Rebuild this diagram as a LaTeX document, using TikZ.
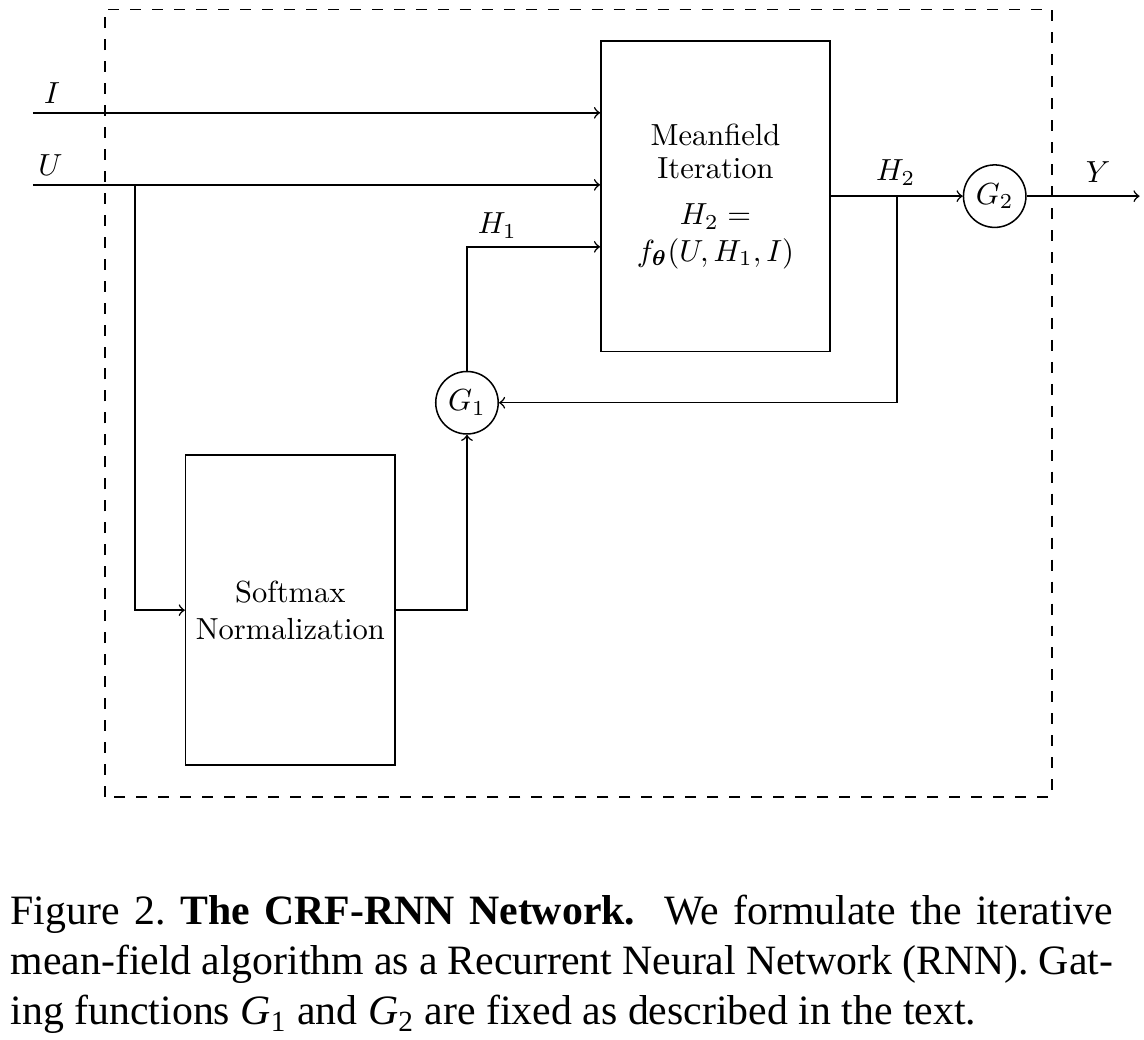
\documentclass[tikz,border=0pt]{standalone}
\usepackage{fontspec}
\usepackage{amsmath}
\newfontfamily\captionfont{Liberation Serif}

\begin{document}
\begin{tikzpicture}[line width=0.5pt,
		block/.style={draw, align=center, minimum width=2.64cm, minimum height=3.58cm},
		gate/.style={draw, circle, minimum size=0.72cm, inner sep=0pt}]
		\useasboundingbox (0,0) rectangle (13.18,11.98);
		%network boundary
		\draw[dash pattern=on 3.6pt off 3.6pt] (1.21,2.80) rectangle (12.12,11.87);
		
		\node[block] (meanfield) at (8.243,9.72) {Meanfield\\[-1pt]Iteration\\[3pt]$H_2=$\\$f_{\boldsymbol{\theta}}(U,H_1,I)$};
		\node[block, minimum width=2.38cm, minimum height=3.57cm] (softmax) at (3.345,4.95) {Softmax\\Normalization};
		\node[gate] (gone) at (5.38,7.34) {$G_1$};
		\node[gate] (gtwo) at (11.46,9.72) {$G_2$};
		
		\coordinate (iin) at (0.38,10.68);
		\coordinate (uin) at (0.38,9.85);
		\coordinate (usplit) at (1.555,9.85);
		\coordinate (hone) at (5.38,9.136);
		\coordinate (htwo) at (10.334,9.72);
		\coordinate (yout) at (13.13,9.72);
		
		\draw[->] (iin) -- (iin -| meanfield.west);
		\draw[->] (uin) -- (uin -| meanfield.west);
		\draw[->] (usplit) |- (softmax.west);
		\draw[->] (softmax.east) -| (gone.south);
		\draw[->] (gone.north) |- (meanfield.west |- hone);
		\draw[->] (meanfield.east) -- (gtwo.west);
		\draw[->] (htwo) |- (gone.east);
		\draw[->] (gtwo.east) -- (yout);
		
		\node (ilabel) at (0.6,10.91) {$I$};
		\node (ulabel) at (0.58,10.08) {$U$};
		\node (honelabel) at (5.73,9.38) {$H_1$};
		\node (htwolabel) at (10.32,9.99) {$H_2$};
		\node (ylabel) at (12.65,10.0) {$Y$};
		
		%caption
		\node[anchor=base west, text width=12.7cm, align=justify, inner sep=0pt,
			font=\captionfont\fontsize{13.7}{16.4}\selectfont] (caption) at (0.115,1.325)
			{Figure 2.\ \textbf{The CRF-RNN Network.}\ \ We formulate the iterative mean-field algorithm as a Recurrent Neural Network (RNN). Gat-\linebreak ing functions \textit{G}\textsubscript{1} and \textit{G}\textsubscript{2} are fixed as described in the text.};
\end{tikzpicture}
\end{document}
